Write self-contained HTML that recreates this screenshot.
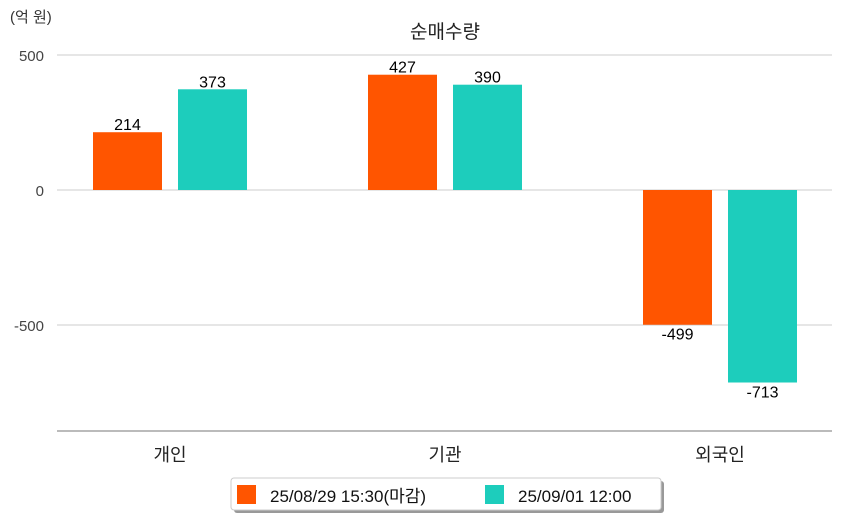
<!DOCTYPE html>
<html><head><meta charset="utf-8">
<style>
body{margin:0;background:#fff;width:842px;height:520px;overflow:hidden}
svg{display:block;font-family:"Liberation Sans","Noto Sans CJK KR",sans-serif}
</style></head>
<body>
<svg id="chart" width="842" height="520">
<text x="10" y="22" font-size="15" fill="#333">(억 원)</text>
<text x="445" y="38" font-size="19" fill="#222" text-anchor="middle">순매수량</text>
<g id="grid"></g>
<g id="bars"></g>
<line x1="57" x2="832" y1="431" y2="431" stroke="#777" stroke-width="1"/>
<g>
<rect x="234" y="481" width="430" height="32" rx="3" fill="#999"/>
<rect x="231" y="478" width="430" height="32" rx="3" fill="#fff" stroke="#ccc"/>
<g>
<rect x="237" y="485" width="19" height="19" fill="#FF5500"/>
<text x="270" y="502" font-size="17" fill="#111">25/08/29 15:30(마감)</text></g>
<g>
<rect x="485" y="485" width="19" height="19" fill="#1DCDBC"/>
<text x="518" y="502" font-size="17" fill="#111">25/09/01 12:00</text></g>
</g>
</svg>
<script>
const categories = ["개인", "기관", "외국인"];
const series1 = [214, 427, -499];
const series2 = [373, 390, -713];
const yTicks = [500, 0, -500];
const NS = "http://www.w3.org/2000/svg";
const y = v => 190 - v * 135 / 500;
const cx = i => 170 + i * 275;
const grid = document.getElementById("grid"), bars = document.getElementById("bars");
function mk(tag, attrs, parent) { const e = document.createElementNS(NS, tag); for (const k in attrs) e.setAttribute(k, attrs[k]); parent.appendChild(e); return e; }
yTicks.forEach(t => {
  const l = mk("line", {x1: 57, x2: 832, y1: y(t), y2: y(t), stroke: "#ccc"}, grid);
  
  
  const tx = mk("text", {x: 44, y: y(t) + 6, "font-size": 15, fill: "#444", "text-anchor": "end"}, grid);
  tx.textContent = t;
  
  
});
categories.forEach((c, i) => {
  const lab = mk("text", {x: cx(i), y: 461, "font-size": 18, fill: "#222", "text-anchor": "middle"}, bars);
  lab.textContent = c;
  
  
  [[series1, "#FF5500", -77], [series2, "#1DCDBC", 8]].forEach(([s, col, off]) => {
    const v = s[i];
    const top = Math.min(y(v), y(0)), h = Math.abs(y(v) - y(0));
    const r = mk("rect", {x: cx(i) + off, y: top, width: 69, height: h, fill: col}, bars);
    
    
    const t = mk("text", {x: cx(i) + off + 34.5, y: v >= 0 ? y(v) - 2 : y(v) + 15, "font-size": 16, fill: "#000", "text-anchor": "middle"}, bars);
    t.textContent = v;
    
    
  });
});
</script>
</body></html>
